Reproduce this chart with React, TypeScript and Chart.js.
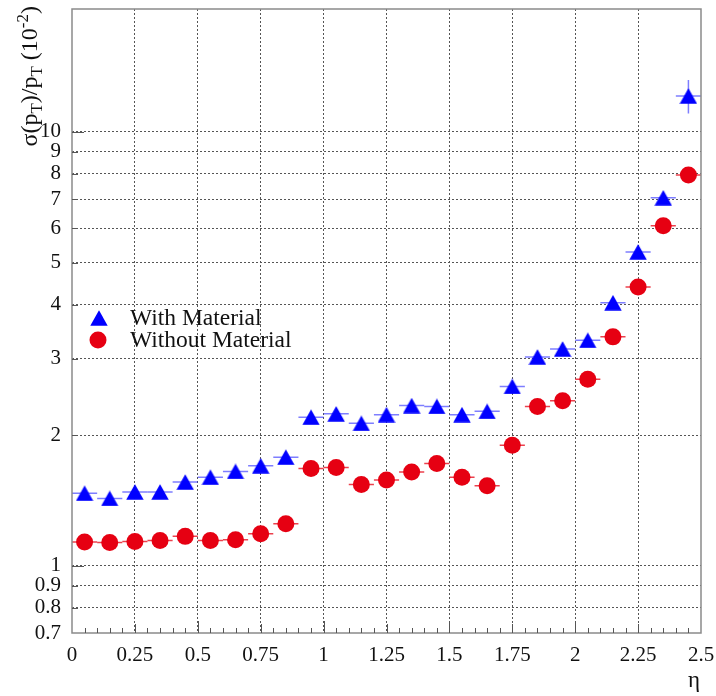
import React, { useEffect, useRef } from "react";
import { Chart, registerables } from "chart.js";

Chart.register(...registerables);

// ---- data ----
const etaBins = [
  0.05, 0.15, 0.25, 0.35, 0.45, 0.55, 0.65, 0.75, 0.85, 0.95,
  1.05, 1.15, 1.25, 1.35, 1.45, 1.55, 1.65, 1.75, 1.85, 1.95,
  2.05, 2.15, 2.25, 2.35, 2.45,
];
const binHalfWidth = 0.05;

const withMaterial = [
  1.47, 1.43, 1.48, 1.48, 1.56, 1.6, 1.65, 1.7, 1.78, 2.2,
  2.24, 2.13, 2.23, 2.34, 2.33, 2.23, 2.27, 2.59, 3.03, 3.16,
  3.31, 4.04, 5.29, 7.05, 12.1,
];
const withMaterialErr = [
  0.02, 0.02, 0.02, 0.02, 0.02, 0.02, 0.02, 0.02, 0.02, 0.03,
  0.03, 0.03, 0.03, 0.03, 0.03, 0.03, 0.03, 0.04, 0.04, 0.05,
  0.05, 0.06, 0.1, 0.18, 1.07,
];
const withoutMaterial = [
  1.135, 1.132, 1.137, 1.144, 1.169, 1.143, 1.148, 1.185, 1.25, 1.676,
  1.685, 1.54, 1.576, 1.646, 1.72, 1.6, 1.53, 1.895, 2.33, 2.4,
  2.69, 3.37, 4.39, 6.08, 7.96,
];
const withoutMaterialErr = [
  0.01, 0.01, 0.01, 0.01, 0.01, 0.01, 0.01, 0.01, 0.01, 0.02,
  0.02, 0.02, 0.02, 0.02, 0.02, 0.02, 0.02, 0.02, 0.03, 0.03,
  0.03, 0.04, 0.05, 0.08, 0.1,
];

const seriesLabels = ["With Material", "Without Material"];
const yTickValues = [0.7, 0.8, 0.9, 1, 2, 3, 4, 5, 6, 7, 8, 9, 10];
const yMajorTicks = [1, 10];
const yMin = 0.7;
const yMax = 19.2;
const xMin = 0;
const xMax = 2.5;
const xStep = 0.25;
const xTitle = "η";
// [text, kind] where kind: "" normal, "sub", "sup"
const yTitleParts: [string, string][] = [
  ["σ(p", ""],
  ["T", "sub"],
  [")/p", ""],
  ["T", "sub"],
  [" (10", ""],
  ["-2", "sup"],
  [")", ""],
];

// ---- style ----
const FONT = "'Liberation Serif', 'Times New Roman', serif";
const BLUE = "#0000ff";
const RED = "#e60012";

function makeTriangle(color: string) {
  const c = document.createElement("canvas");
  c.width = 18;
  c.height = 16;
  const g = c.getContext("2d")!;
  g.fillStyle = color;
  g.beginPath();
  g.moveTo(9, 0.3);
  g.lineTo(17.7, 15.7);
  g.lineTo(0.3, 15.7);
  g.closePath();
  g.fill();
  return c;
}

export default function App() {
  const ref = useRef<HTMLCanvasElement | null>(null);

  useEffect(() => {
    if (!ref.current) return;
    const tri = makeTriangle(BLUE);
    const errSets = [withMaterialErr, withoutMaterialErr];
    const errColors = ["rgba(40,40,255,0.6)", "rgba(230,0,18,0.75)"];

    const decor = {
      id: "hepDecor",
      beforeDatasetsDraw(chart: any) {
        const { ctx, scales } = chart;
        const xs = scales.x;
        const ys = scales.y;
        ctx.save();
        ctx.lineWidth = 1.5;
        chart.data.datasets.forEach((ds: any, di: number) => {
          ctx.strokeStyle = errColors[di];
          ds.data.forEach((p: any, i: number) => {
            const py = ys.getPixelForValue(p.y);
            const px = xs.getPixelForValue(p.x);
            ctx.beginPath();
            ctx.moveTo(xs.getPixelForValue(p.x - binHalfWidth), py);
            ctx.lineTo(xs.getPixelForValue(p.x + binHalfWidth), py);
            const e = errSets[di][i];
            ctx.moveTo(px, ys.getPixelForValue(p.y + e));
            ctx.lineTo(px, ys.getPixelForValue(p.y - e));
            ctx.stroke();
          });
        });
        ctx.restore();
      },
      afterDraw(chart: any) {
        const { ctx, chartArea: a, scales } = chart;
        const xs = scales.x;
        const ys = scales.y;
        ctx.save();
        // frame
        ctx.strokeStyle = "#8a8a8a";
        ctx.lineWidth = 1.5;
        ctx.strokeRect(a.left, a.top, a.right - a.left, a.bottom - a.top);
        // inward ticks
        ctx.strokeStyle = "#555";
        ctx.lineWidth = 1;
        ctx.beginPath();
        for (let i = 1; i < 50; i++) {
          const v = i * 0.05;
          const px = Math.round(xs.getPixelForValue(v)) + 0.5;
          let len = 5;
          if (i % 10 === 0) len = 12;
          else if (i % 5 === 0) len = 9;
          ctx.moveTo(px, a.bottom);
          ctx.lineTo(px, a.bottom - len);
        }
        yTickValues.forEach((v) => {
          if (v <= yMin) return;
          const py = Math.round(ys.getPixelForValue(v)) + 0.5;
          const len = yMajorTicks.includes(v) ? 12 : 6;
          ctx.moveTo(a.left, py);
          ctx.lineTo(a.left + len, py);
        });
        ctx.stroke();

        // legend
        ctx.drawImage(tri, 99 - 9, 318 - 8);
        ctx.fillStyle = RED;
        ctx.beginPath();
        ctx.arc(98, 340, 8.5, 0, Math.PI * 2);
        ctx.fill();
        ctx.fillStyle = "#111";
        ctx.font = `23.5px ${FONT}`;
        ctx.textAlign = "left";
        ctx.textBaseline = "alphabetic";
        ctx.fillText(seriesLabels[0], 130, 325);
        ctx.fillText(seriesLabels[1], 130, 347);

        // x title
        ctx.font = `23px ${FONT}`;
        ctx.textAlign = "right";
        ctx.fillText(xTitle, 700, 687);

        // y title (rotated)
        const mainF = `24px ${FONT}`;
        const smallF = `17px ${FONT}`;
        let total = 0;
        yTitleParts.forEach(([t, k]) => {
          ctx.font = k ? smallF : mainF;
          total += ctx.measureText(t).width;
        });
        ctx.translate(37, 6 + total);
        ctx.rotate(-Math.PI / 2);
        ctx.textAlign = "left";
        let xx = 0;
        yTitleParts.forEach(([t, k]) => {
          ctx.font = k ? smallF : mainF;
          const dy = k === "sub" ? 5 : k === "sup" ? -9 : 0;
          ctx.fillText(t, xx, dy);
          xx += ctx.measureText(t).width;
        });
        ctx.restore();
      },
    };

    const chart = new Chart(ref.current, {
      type: "scatter",
      data: {
        datasets: [
          {
            label: seriesLabels[0],
            data: etaBins.map((x, i) => ({ x, y: withMaterial[i] })),
            pointStyle: tri as any,
            pointRadius: 9,
            backgroundColor: BLUE,
            borderWidth: 0,
          },
          {
            label: seriesLabels[1],
            data: etaBins.map((x, i) => ({ x, y: withoutMaterial[i] })),
            pointStyle: "circle",
            pointRadius: 8.5,
            backgroundColor: RED,
            borderColor: RED,
            borderWidth: 0,
          },
        ],
      },
      options: {
        animation: false,
        responsive: false,
        events: [],
        layout: { padding: { left: 0, top: 6, right: 15, bottom: 0 } },
        plugins: { legend: { display: false }, tooltip: { enabled: false } },
        scales: {
          x: {
            type: "linear",
            min: xMin,
            max: xMax,
            afterFit: (s: any) => {
              s.height = 63;
              s.paddingLeft = 0;
              s.paddingRight = 0;
              s.paddingTop = 0;
              s.paddingBottom = 0;
            },
            border: { display: false, dash: [2, 2] },
            grid: {
              drawTicks: false,
              color: (c: any) =>
                c.tick && (c.tick.value <= xMin || c.tick.value >= xMax) ? "rgba(0,0,0,0)" : "#555",
              lineWidth: 1,
            },
            ticks: {
              stepSize: xStep,
              autoSkip: false,
              maxRotation: 0,
              padding: 10,
              color: "#111",
              font: { family: FONT, size: 21 },
              callback: (v: any) => String(Number(Number(v).toFixed(2))),
            },
          },
          y: {
            type: "logarithmic",
            min: yMin,
            max: yMax,
            afterFit: (s: any) => {
              s.width = 72;
              s.paddingTop = 0;
              s.paddingBottom = 0;
              s.paddingLeft = 0;
              s.paddingRight = 0;
            },
            afterBuildTicks: (s: any) => {
              s.ticks = yTickValues.map((v) => ({ value: v }));
            },
            border: { display: false, dash: [2, 2] },
            grid: {
              drawTicks: false,
              color: (c: any) =>
                c.tick && c.tick.value <= yMin ? "rgba(0,0,0,0)" : "#555",
              lineWidth: 1,
            },
            ticks: {
              autoSkip: false,
              padding: 11,
              color: "#111",
              font: { family: FONT, size: 21 },
              callback: (v: any) => String(Number(v)),
            },
          },
        },
      },
      plugins: [decor],
    });
    return () => chart.destroy();
  }, []);

  return (
    <div style={{ position: "absolute", left: 0, top: 0, width: 716, height: 696, background: "#fff" }}>
      <canvas ref={ref} width={716} height={696} style={{ display: "block" }} />
    </div>
  );
}
